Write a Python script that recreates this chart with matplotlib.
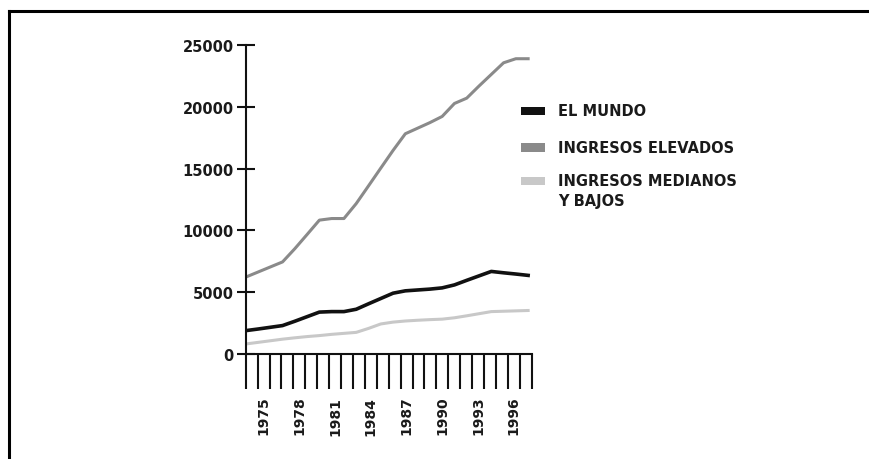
import numpy as np
import matplotlib.pyplot as plt
from matplotlib.patches import Rectangle
from matplotlib.lines import Line2D

# datos por año (1974-1997)
years = list(range(1974, 1998))
el_mundo = [1890, 2020, 2160, 2300, 2650, 3020, 3390, 3430, 3430, 3620, 4060, 4490,
            4920, 5110, 5180, 5250, 5350, 5590, 5960, 6320, 6680, 6570, 6470, 6360]
ingresos_elevados = [6220, 6630, 7040, 7450, 8520, 9670, 10830, 10960, 10960, 12170, 13600, 15040,
                     16470, 17820, 18270, 18720, 19220, 20270, 20700, 21680, 22620, 23560, 23890, 23890]
ingresos_medianos = [810, 940, 1070, 1200, 1310, 1410, 1490, 1590, 1670, 1750, 2070, 2430,
                     2580, 2670, 2730, 2780, 2820, 2930, 3090, 3260, 3430, 3460, 3490, 3520]
label_years = [1975, 1978, 1981, 1984, 1987, 1990, 1993, 1996]
y_ticks = [0, 5000, 10000, 15000, 20000, 25000]
legend_labels = ["EL MUNDO", "INGRESOS ELEVADOS", "INGRESOS MEDIANOS\nY BAJOS"]

c_mundo = "#111111"
c_elev = "#8a8a8a"
c_med = "#c8c8c8"

fig = plt.figure(figsize=(8.69, 4.6), dpi=100)
W, H = 869, 460

ax = fig.add_axes([245.7 / W, 1 - 355 / H, 286 / W, 309 / H])

# posiciones de los puntos a lo largo del eje
xpos = np.linspace(1973.5, 1997.2, len(years))

ax.plot(xpos, ingresos_elevados, color=c_elev, lw=2.2, solid_joinstyle="round")
ax.plot(xpos, ingresos_medianos, color=c_med, lw=2.2, solid_joinstyle="round")
ax.plot(xpos, el_mundo, color=c_mundo, lw=2.6, solid_joinstyle="round")

ax.set_xlim(1973.5, 1997.5)
ax.set_ylim(0, 25000)

for s in ["top", "right"]:
    ax.spines[s].set_visible(False)
for s in ["left", "bottom"]:
    ax.spines[s].set_linewidth(1.5)
    ax.spines[s].set_color("#111111")

# ticks del eje x: marcas largas entre años, etiquetas en los años
ax.set_xticks(np.arange(1973.5, 1998.0, 1.0))
ax.set_xticklabels([])
ax.tick_params(axis="x", which="major", direction="out", length=25, width=1.5, color="#111111")
ax.set_xticks(label_years, minor=True)
ax.set_xticklabels([str(y) for y in label_years], minor=True, rotation=90,
                   fontsize=10, fontweight="bold", color="#1a1a1a")
ax.tick_params(axis="x", which="minor", length=0, pad=30)

ax.set_yticks(y_ticks)
ax.set_yticklabels([str(v) for v in y_ticks], fontsize=10.5, fontweight="bold", color="#1a1a1a")
ax.tick_params(axis="y", direction="inout", length=13, width=1.5, color="#111111", pad=2)

# leyenda manual
legend_colors = [c_mundo, c_elev, c_med]
legend_y = [112, 148.5, 182]
for lab, col, yc in zip(legend_labels, legend_colors, legend_y):
    fig.patches.append(Rectangle((521 / W, 1 - (yc + 4) / H), 24 / W, 8.5 / H,
                                 transform=fig.transFigure, facecolor=col, edgecolor="none"))
    fig.text(558 / W, 1 - (yc - 7.5) / H, lab, fontsize=10.5, fontweight="bold",
             color="#1a1a1a", va="top", ha="left", linespacing=1.35)

# marco
fig.add_artist(Line2D([9 / W, 1.0], [1 - 12 / H, 1 - 12 / H], color="black", lw=2.2,
                      transform=fig.transFigure))
fig.add_artist(Line2D([9 / W, 9 / W], [0, 1 - 12 / H], color="black", lw=2.2,
                      transform=fig.transFigure))

fig.savefig("out.png", dpi=100)
